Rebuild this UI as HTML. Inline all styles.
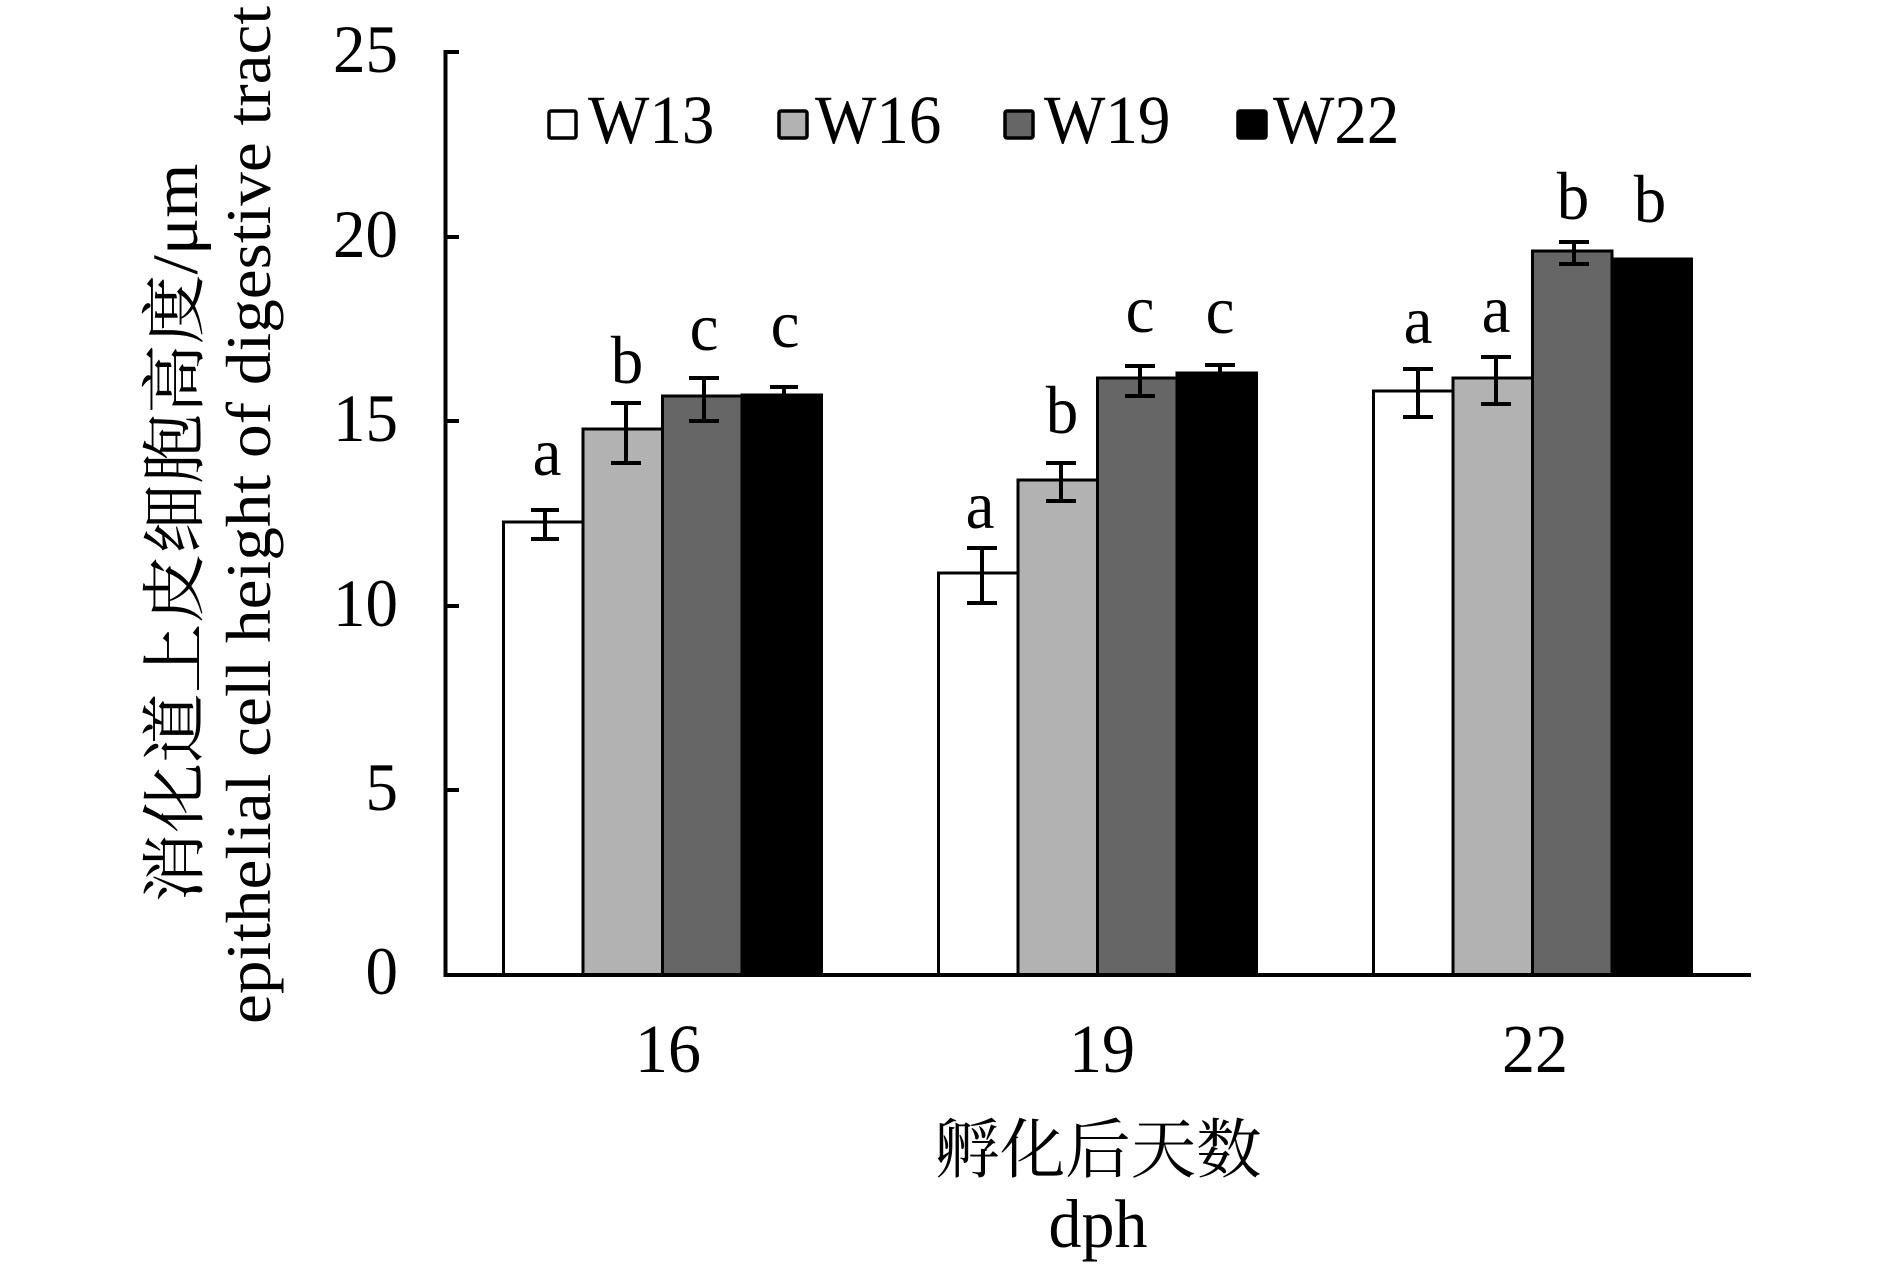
<!DOCTYPE html>
<html>
<head>
<meta charset="utf-8">
<style>
  html, body { margin: 0; padding: 0; background: #fff; }
  svg { display: block; }
  text { font-family: "Liberation Serif", "Noto Serif CJK SC", serif; fill: #000; }
</style>
</head>
<body>
<svg width="1890" height="1272" viewBox="0 0 1890 1272" xmlns="http://www.w3.org/2000/svg">
  <rect x="0" y="0" width="1890" height="1272" fill="#fff"/>

  <!-- Y axis title -->
  <text transform="translate(197,533) rotate(-90)" font-size="65" text-anchor="middle" textLength="739" lengthAdjust="spacingAndGlyphs">消化道上皮细胞高度/μm</text>
  <text transform="translate(270,515) rotate(-90)" font-size="63" text-anchor="middle" textLength="1018" lengthAdjust="spacingAndGlyphs">epithelial cell height of digestive tract</text>

  <!-- Y tick labels -->
  <g font-size="65" text-anchor="end">
    <text transform="translate(398,72) scale(1,1.05)">25</text>
    <text transform="translate(398,257) scale(1,1.05)">20</text>
    <text transform="translate(398,441) scale(1,1.05)">15</text>
    <text transform="translate(398,626) scale(1,1.05)">10</text>
    <text transform="translate(398,810) scale(1,1.05)">5</text>
    <text transform="translate(398,994) scale(1,1.05)">0</text>
  </g>

  <!-- Bars group 16 -->
  <g stroke="#000" stroke-width="3">
    <rect x="503.5" y="522" width="79.5" height="453" fill="#fff"/>
    <rect x="583" y="429" width="79.5" height="546" fill="#b2b2b2"/>
    <rect x="662.5" y="396" width="79.5" height="579" fill="#666666"/>
    <rect x="742" y="395" width="79.5" height="580" fill="#000"/>

    <rect x="938.5" y="573" width="79.5" height="402" fill="#fff"/>
    <rect x="1018" y="480" width="79.5" height="495" fill="#b2b2b2"/>
    <rect x="1097.5" y="378" width="79.5" height="597" fill="#666666"/>
    <rect x="1177" y="373" width="79.5" height="602" fill="#000"/>

    <rect x="1373.5" y="391" width="79.5" height="584" fill="#fff"/>
    <rect x="1453" y="378" width="79.5" height="597" fill="#b2b2b2"/>
    <rect x="1532.5" y="251" width="79.5" height="724" fill="#666666"/>
    <rect x="1612" y="259" width="79.5" height="716" fill="#000"/>
  </g>

  <!-- Error bars -->
  <g stroke="#000" stroke-width="4" fill="none">
    <path d="M545 510 V539 M531 510 H559 M531 539 H559"/>
    <path d="M626 403 V463 M611 403 H641 M611 463 H641"/>
    <path d="M704 378 V421 M689 378 H719 M689 421 H719"/>
    <path d="M784 387 V403 M770 387 H798"/>

    <path d="M982 548 V603 M967 548 H997 M967 603 H997"/>
    <path d="M1061 463 V501 M1046 463 H1076 M1046 501 H1076"/>
    <path d="M1140 366 V396 M1125 366 H1155 M1125 396 H1155"/>
    <path d="M1220 365 V381 M1205 365 H1235"/>

    <path d="M1418 369 V417 M1403 369 H1433 M1403 417 H1433"/>
    <path d="M1496 357 V404 M1481 357 H1511 M1481 404 H1511"/>
    <path d="M1574 242 V264 M1559 242 H1589 M1559 264 H1589"/>
  </g>

  <!-- Axes -->
  <g stroke="#000" fill="none">
    <path d="M445.5 50 V977" stroke-width="4"/>
    <path d="M443.5 975 H1751" stroke-width="4"/>
    <path d="M445 52 H459 M445 237 H459 M445 421 H459 M445 606 H459 M445 790 H459" stroke-width="4"/>
  </g>

  <!-- Significance letters -->
  <g font-size="65" text-anchor="middle">
    <text transform="translate(547,475) scale(1,1.05)">a</text>
    <text transform="translate(627,383) scale(1,1.05)">b</text>
    <text transform="translate(704,350) scale(1,1.05)">c</text>
    <text transform="translate(785,347) scale(1,1.05)">c</text>

    <text transform="translate(980,528) scale(1,1.05)">a</text>
    <text transform="translate(1062,433) scale(1,1.05)">b</text>
    <text transform="translate(1140,332) scale(1,1.05)">c</text>
    <text transform="translate(1220,333) scale(1,1.05)">c</text>

    <text transform="translate(1418,343) scale(1,1.05)">a</text>
    <text transform="translate(1496,332) scale(1,1.05)">a</text>
    <text transform="translate(1573,219) scale(1,1.05)">b</text>
    <text transform="translate(1650,222) scale(1,1.05)">b</text>
  </g>

  <!-- Legend -->
  <g stroke="#000" stroke-width="3.5">
    <rect x="549" y="111" width="27" height="27" rx="2" fill="#fff"/>
    <rect x="779" y="111" width="28" height="27" rx="2" fill="#b2b2b2"/>
    <rect x="1005" y="111" width="28" height="27" rx="2" fill="#666666"/>
    <rect x="1238" y="111" width="28" height="27" rx="2" fill="#000"/>
  </g>
  <g font-size="65">
    <text transform="translate(588,143) scale(1,1.06)">W13</text>
    <text transform="translate(815,143) scale(1,1.06)">W16</text>
    <text transform="translate(1044,143) scale(1,1.06)">W19</text>
    <text transform="translate(1273,143) scale(1,1.06)">W22</text>
  </g>

  <!-- X tick labels -->
  <g font-size="66" text-anchor="middle">
    <text transform="translate(668,1072) scale(1,1.05)">16</text>
    <text transform="translate(1102,1072) scale(1,1.05)">19</text>
    <text transform="translate(1535,1072) scale(1,1.05)">22</text>
  </g>

  <!-- X axis title -->
  <text transform="translate(1098,1172) scale(1,1.0)" font-size="65" text-anchor="middle" textLength="327" lengthAdjust="spacingAndGlyphs">孵化后天数</text>
  <text transform="translate(1098,1247) scale(1,1.05)" font-size="66" text-anchor="middle">dph</text>
</svg>
</body>
</html>
